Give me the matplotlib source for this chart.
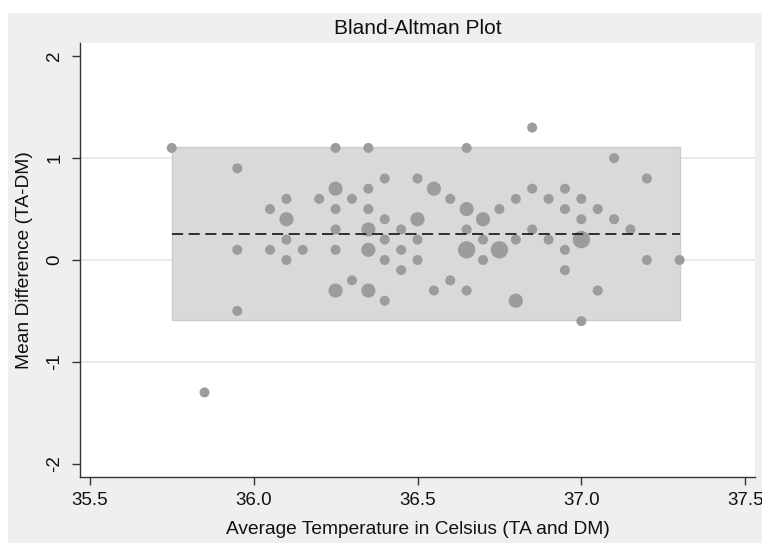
import matplotlib
matplotlib.use("Agg")
import matplotlib.pyplot as plt
from matplotlib.patches import Rectangle
import numpy as np

plt.rcParams['font.family'] = ['Liberation Sans', 'DejaVu Sans']
plt.rcParams['lines.scale_dashes'] = False

# ---- data: (average temperature, difference, frequency weight) ----
avg_temp = [35.75, 35.85, 35.95, 35.95, 35.95, 36.05, 36.05, 36.10, 36.10, 36.10,
            36.10, 36.15, 36.20, 36.25, 36.25, 36.25, 36.25, 36.25, 36.25, 36.30,
            36.30, 36.35, 36.35, 36.35, 36.35, 36.35, 36.35, 36.40, 36.40, 36.40,
            36.40, 36.40, 36.45, 36.45, 36.45, 36.50, 36.50, 36.50, 36.50, 36.55,
            36.55, 36.60, 36.60, 36.65, 36.65, 36.65, 36.65, 36.65, 36.70, 36.70,
            36.70, 36.75, 36.75, 36.80, 36.80, 36.80, 36.85, 36.85, 36.85, 36.90,
            36.90, 36.95, 36.95, 36.95, 36.95, 37.00, 37.00, 37.00, 37.00, 37.05,
            37.05, 37.10, 37.10, 37.15, 37.20, 37.20, 37.30]
diff = [1.1, -1.3, 0.9, 0.1, -0.5, 0.5, 0.1, 0.6, 0.4, 0.2,
        0.0, 0.1, 0.6, 1.1, 0.7, 0.5, 0.3, 0.1, -0.3, 0.6,
        -0.2, 1.1, 0.7, 0.5, 0.3, 0.1, -0.3, 0.8, 0.4, 0.2,
        0.0, -0.4, 0.3, 0.1, -0.1, 0.8, 0.4, 0.2, 0.0, 0.7,
        -0.3, 0.6, -0.2, 1.1, 0.5, 0.3, 0.1, -0.3, 0.4, 0.2,
        0.0, 0.5, 0.1, 0.6, 0.2, -0.4, 1.3, 0.7, 0.3, 0.6,
        0.2, 0.7, 0.5, 0.1, -0.1, 0.6, 0.4, 0.2, -0.6, 0.5,
        -0.3, 1.0, 0.4, 0.3, 0.8, 0.0, 0.0]
freq = [1, 1, 1, 1, 1, 1, 1, 1, 2, 1,
        1, 1, 1, 1, 2, 1, 1, 1, 2, 1,
        1, 1, 1, 1, 2, 2, 2, 1, 1, 1,
        1, 1, 1, 1, 1, 1, 2, 1, 1, 2,
        1, 1, 1, 1, 2, 1, 3, 1, 2, 1,
        1, 1, 3, 1, 1, 2, 1, 1, 1, 1,
        1, 1, 1, 1, 1, 1, 1, 3, 1, 1,
        1, 1, 1, 1, 1, 1, 1]

mean_diff = 0.26
lower_loa = -0.59
upper_loa = 1.11

x_ticks = [35.5, 36.0, 36.5, 37.0, 37.5]
x_tick_labels = ["35.5", "36.0", "36.5", "37.0", "37.5"]
y_ticks = [-2, -1, 0, 1, 2]
y_tick_labels = ["-2", "-1", "0", "1", "2"]
grid_y = [-1, 0, 1]

title = "Bland-Altman Plot"
x_label = "Average Temperature in Celsius (TA and DM)"
y_label = "Mean Difference (TA-DM)"

# ---- figure ----
W, H = 762, 543
fig = plt.figure(figsize=(W / 100, H / 100), dpi=100)
fig.patch.set_facecolor('white')
fig.add_artist(Rectangle((8 / W, 0), 1, 1 - 13 / H, transform=fig.transFigure,
                         facecolor='#efefef', edgecolor='none', zorder=-10))

L, R, T, B = 80, 755, 43, 477
ax = fig.add_axes([L / W, 1 - B / H, (R - L) / W, (B - T) / H])
ax.set_facecolor('white')
ax.set_xlim(35.47, 37.53)
ax.set_ylim(-2.13, 2.13)

for gy in grid_y:
    ax.axhline(gy, color='#e4e4e4', lw=1.1, zorder=0)

xmin, xmax = min(avg_temp), max(avg_temp)
ax.fill_between([xmin, xmax], [lower_loa] * 2, [upper_loa] * 2,
                facecolor='#d9d9d9', edgecolor='#cccccc', lw=1.0, zorder=1)

ax.scatter(avg_temp, diff, s=[52 * f for f in freq], color='#9c9c9c',
           edgecolors='none', zorder=3)

ax.plot([xmin, xmax], [mean_diff, mean_diff], color='#111111', lw=1.2,
        dashes=(8, 4), zorder=4)

for side in ['top', 'right']:
    ax.spines[side].set_visible(False)
for side in ['left', 'bottom']:
    ax.spines[side].set_color('#333333')
    ax.spines[side].set_linewidth(1.0)

ax.set_xticks(x_ticks)
ax.set_xticklabels(x_tick_labels)
ax.set_yticks(y_ticks)
ax.set_yticklabels(y_tick_labels, rotation=90, va='center')
ax.tick_params(axis='both', length=6, width=1.0, color='#333333',
               labelsize=13.5, labelcolor='#111111')
ax.tick_params(axis='x', pad=4.5)
ax.tick_params(axis='y', pad=6)

fig.text((L + R) / 2 / W, 1 - 28 / H, title, ha='center', va='center',
         fontsize=15, color='#111111')
fig.text((L + R) / 2 / W, 1 - 530 / H, x_label, ha='center', va='center',
         fontsize=13.8, color='#111111')
fig.text(25 / W, 1 - (T + B) / 2 / H, y_label, ha='center', va='center',
         rotation=90, fontsize=13.8, color='#111111')

fig.savefig('out.png', dpi=100)
